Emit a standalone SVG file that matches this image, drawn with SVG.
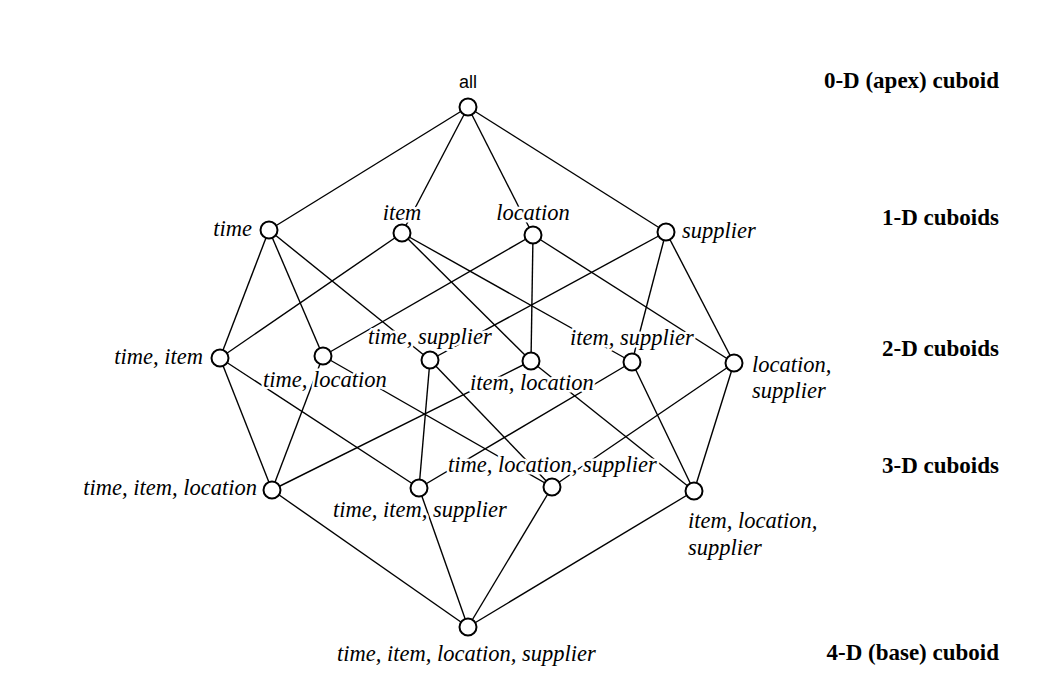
<svg xmlns="http://www.w3.org/2000/svg" width="1064" height="690" viewBox="0 0 1064 690">
<style>
.e{stroke:#000;stroke-width:1.4;fill:none}
.n{fill:#fff;stroke:#000;stroke-width:2}
.l{font-family:'Liberation Serif','DejaVu Serif','Times New Roman',Times,serif;font-style:italic;font-size:22.5px;fill:#000;stroke:#fff;stroke-width:5;paint-order:stroke;stroke-linejoin:round}
.h{font-family:'Liberation Serif','DejaVu Serif','Times New Roman',Times,serif;font-weight:bold;font-size:23px;fill:#000;text-anchor:end}
.s{font-family:'Liberation Sans',Arial,sans-serif;font-size:18px;fill:#000;text-anchor:middle}
</style>
<rect width="1064" height="690" fill="#fff"/>
<g id="connectors">
<line class="e" x1="468" y1="107" x2="269" y2="230"/>
<line class="e" x1="468" y1="107" x2="402" y2="233"/>
<line class="e" x1="468" y1="107" x2="533" y2="235"/>
<line class="e" x1="468" y1="107" x2="666" y2="232"/>
<line class="e" x1="269" y1="230" x2="220" y2="358"/>
<line class="e" x1="269" y1="230" x2="323" y2="356"/>
<line class="e" x1="269" y1="230" x2="430" y2="360"/>
<line class="e" x1="402" y1="233" x2="220" y2="358"/>
<line class="e" x1="402" y1="233" x2="531" y2="361"/>
<line class="e" x1="402" y1="233" x2="632" y2="362"/>
<line class="e" x1="533" y1="235" x2="323" y2="356"/>
<line class="e" x1="533" y1="235" x2="531" y2="361"/>
<line class="e" x1="533" y1="235" x2="734" y2="363"/>
<line class="e" x1="666" y1="232" x2="430" y2="360"/>
<line class="e" x1="666" y1="232" x2="632" y2="362"/>
<line class="e" x1="666" y1="232" x2="734" y2="363"/>
<line class="e" x1="220" y1="358" x2="272" y2="490"/>
<line class="e" x1="220" y1="358" x2="419" y2="488"/>
<line class="e" x1="323" y1="356" x2="272" y2="490"/>
<line class="e" x1="323" y1="356" x2="552" y2="487"/>
<line class="e" x1="430" y1="360" x2="419" y2="488"/>
<line class="e" x1="430" y1="360" x2="552" y2="487"/>
<line class="e" x1="531" y1="361" x2="272" y2="490"/>
<line class="e" x1="531" y1="361" x2="694" y2="491"/>
<line class="e" x1="632" y1="362" x2="419" y2="488"/>
<line class="e" x1="632" y1="362" x2="694" y2="491"/>
<line class="e" x1="734" y1="363" x2="552" y2="487"/>
<line class="e" x1="734" y1="363" x2="694" y2="491"/>
<line class="e" x1="272" y1="490" x2="468" y2="627"/>
<line class="e" x1="419" y1="488" x2="468" y2="627"/>
<line class="e" x1="552" y1="487" x2="468" y2="627"/>
<line class="e" x1="694" y1="491" x2="468" y2="627"/>
</g>
<g id="levels">
<text class="h" x="999" y="88">0-D (apex) cuboid</text>
<text class="h" x="999" y="225">1-D cuboids</text>
<text class="h" x="999" y="356">2-D cuboids</text>
<text class="h" x="999" y="473">3-D cuboids</text>
<text class="h" x="999" y="660">4-D (base) cuboid</text>
</g>
<g id="n-all"><text class="s" x="468" y="88">all</text><circle class="n" cx="468" cy="107" r="8.5"/></g>
<g id="n-time"><text class="l" x="252" y="236" text-anchor="end">time</text><circle class="n" cx="269" cy="230" r="8.5"/></g>
<g id="n-item"><text class="l" x="402" y="220" text-anchor="middle">item</text><circle class="n" cx="402" cy="233" r="8.5"/></g>
<g id="n-location"><text class="l" x="533" y="220" text-anchor="middle">location</text><circle class="n" cx="533" cy="235" r="8.5"/></g>
<g id="n-supplier"><text class="l" x="682" y="238">supplier</text><circle class="n" cx="666" cy="232" r="8.5"/></g>
<g id="n-time-item"><text class="l" x="203" y="364" text-anchor="end">time, item</text><circle class="n" cx="220" cy="358" r="8.5"/></g>
<g id="n-time-location"><text class="l" x="263" y="387">time, location</text><circle class="n" cx="323" cy="356" r="8.5"/></g>
<g id="n-time-supplier"><text class="l" x="368" y="344">time, supplier</text><circle class="n" cx="430" cy="360" r="8.5"/></g>
<g id="n-item-location"><text class="l" x="470" y="390">item, location</text><circle class="n" cx="531" cy="361" r="8.5"/></g>
<g id="n-item-supplier"><text class="l" x="570" y="345">item, supplier</text><circle class="n" cx="632" cy="362" r="8.5"/></g>
<g id="n-location-supplier"><text class="l" x="752" y="372">location,</text><text class="l" x="752" y="398">supplier</text><circle class="n" cx="734" cy="363" r="8.5"/></g>
<g id="n-time-item-location"><text class="l" x="257" y="495" text-anchor="end">time, item, location</text><circle class="n" cx="272" cy="490" r="8.5"/></g>
<g id="n-time-item-supplier"><text class="l" x="333" y="517">time, item, supplier</text><circle class="n" cx="419" cy="488" r="8.5"/></g>
<g id="n-time-location-supplier"><text class="l" x="448" y="472">time, location, supplier</text><circle class="n" cx="552" cy="487" r="8.5"/></g>
<g id="n-item-location-supplier"><text class="l" x="688" y="528">item, location,</text><text class="l" x="688" y="555">supplier</text><circle class="n" cx="694" cy="491" r="8.5"/></g>
<g id="n-base"><text class="l" x="337" y="661">time, item, location, supplier</text><circle class="n" cx="468" cy="627" r="8.5"/></g>
</svg>
